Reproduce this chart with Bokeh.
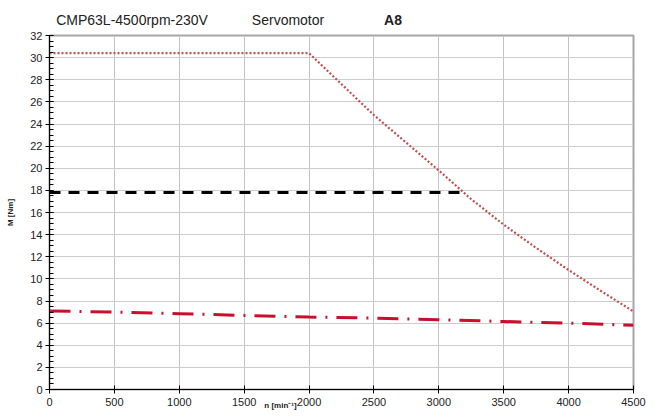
from bokeh.plotting import figure
from bokeh.models import FixedTicker, Range1d, LinearAxis
from bokeh.embed import file_html
from bokeh.resources import INLINE

# Data
peak_n = [0, 2000, 2250, 2500, 2750, 3000, 3250, 3500, 3750, 4000, 4250, 4500]
peak_m = [30.4, 30.4, 27.6, 24.8, 22.3, 19.8, 17.2, 14.9, 12.8, 10.8, 8.9, 7.05]
s1_n = [0, 3180]
s1_m = [17.8, 17.8]
cont_n = [0, 500, 1000, 1500, 2000, 2500, 3000, 3500, 4000, 4500]
cont_m = [7.1, 7.0, 6.85, 6.7, 6.55, 6.45, 6.3, 6.15, 6.0, 5.8]
x_ticks = [0, 500, 1000, 1500, 2000, 2500, 3000, 3500, 4000, 4500]
y_ticks = list(range(0, 33, 2))
title_normal = {636: "CMP63L-4500rpm-230V", 1838: "Servomotor"}
title_bold = {2647: "A8"}
x_label = {1780: "n [min\u207b\u00b9]"}

FONT = "Liberation Sans"

p = figure(width=657, height=412, output_backend="svg", toolbar_location=None,
           x_range=Range1d(0, 4500), y_range=Range1d(0, 32),
           min_border_left=49, min_border_right=24, min_border_top=35, min_border_bottom=23)
p.background_fill_color = "white"
p.border_fill_color = "white"
p.outline_line_color = "#a6a6a6"
p.outline_line_width = 2

# grid
p.xgrid.ticker = FixedTicker(ticks=x_ticks)
p.ygrid.ticker = FixedTicker(ticks=y_ticks)
p.xgrid.grid_line_color = "#c4c4c4"
p.ygrid.grid_line_color = "#cccccc"

# axes
p.xaxis.ticker = FixedTicker(ticks=x_ticks)
p.yaxis.ticker = FixedTicker(ticks=y_ticks, minor_ticks=[i * 0.5 for i in range(0, 65)])
for ax in (p.xaxis[0], p.yaxis[0]):
    ax.axis_line_color = "black"
    ax.major_tick_line_color = "black"
    ax.minor_tick_line_color = "black"
    ax.major_tick_in = 4
    ax.major_tick_out = 4
    ax.major_label_text_font = FONT
    ax.major_label_text_font_size = "11px"
    ax.major_label_text_color = "#222222"
p.xaxis.minor_tick_line_color = None
p.xaxis.major_label_standoff = 4
p.yaxis.minor_tick_in = 4
p.yaxis.minor_tick_out = 0
p.yaxis.major_label_standoff = 3
p.yaxis.axis_label = "M [Nm]"
p.yaxis.axis_label_text_font = FONT
p.yaxis.axis_label_text_font_size = "8px"
p.yaxis.axis_label_text_font_style = "bold"
p.yaxis.axis_label_text_color = "#222222"
p.yaxis.axis_label_standoff = 12


def text_axis(labels, style, size, standoff):
    return LinearAxis(ticker=FixedTicker(ticks=list(labels.keys())),
                      major_label_overrides=dict(labels),
                      axis_line_color=None, major_tick_line_color=None,
                      minor_tick_line_color=None, major_tick_out=0, major_tick_in=0,
                      major_label_standoff=standoff,
                      major_label_text_font=FONT, major_label_text_font_size=size,
                      major_label_text_font_style=style, major_label_text_color="#222222")


# title row
p.add_layout(text_axis(title_normal, "normal", "14px", 8), "above")
p.add_layout(text_axis(title_bold, "bold", "14px", -19), "above")
# x-axis title, placed like the reference (left of centre, below tick labels)
p.add_layout(text_axis(x_label, "bold", "8px", -8), "below")

# lines
p.line(peak_n, peak_m, line_color="#c0504d", line_width=2.2, line_dash="2 2")
p.line(s1_n, s1_m, line_color="black", line_width=3, line_dash="11 8")
p.line(cont_n, cont_m, line_color="#c8102e", line_width=3, line_dash="21 9 2 9")

open("out.html", "w").write(file_html(p, INLINE))
